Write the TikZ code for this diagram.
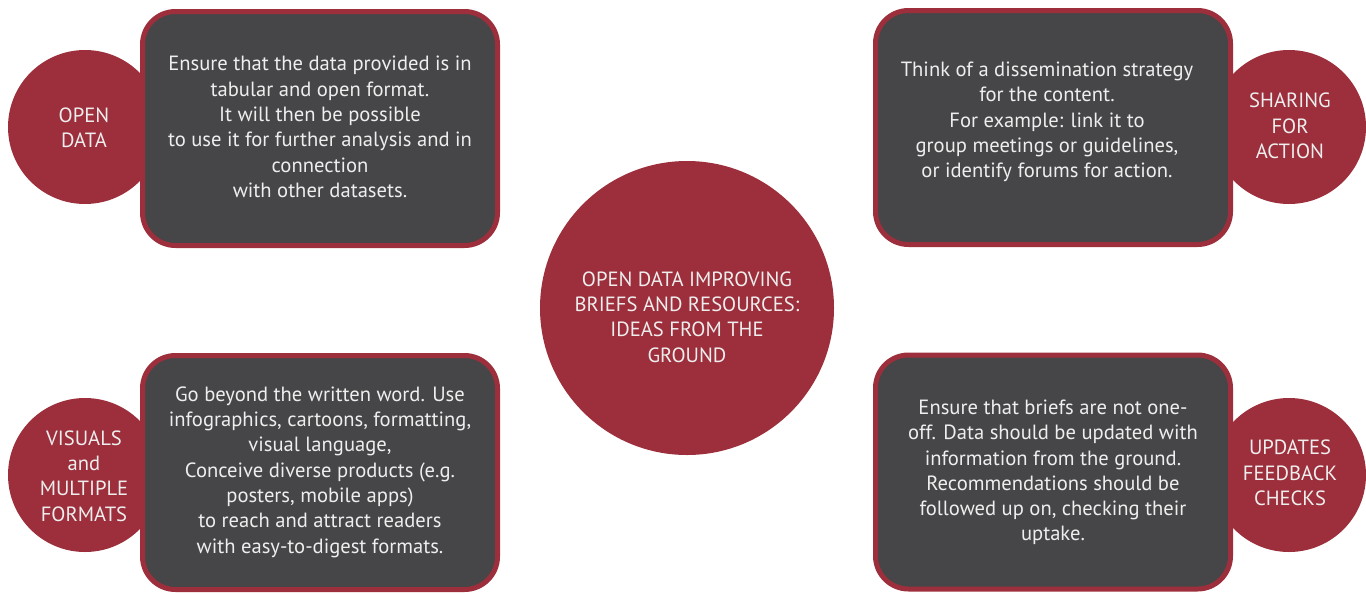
\documentclass[tikz,border=0pt]{standalone}
\usepackage{fontspec}
\setmainfont{PT Sans}
\definecolor{brickred}{HTML}{9C2F3B}
\definecolor{slate}{HTML}{464648}
\definecolor{paleText}{HTML}{EEEEEE}
\begin{document}
\begin{tikzpicture}[x=1pt,y=-1pt,
  txt/.style={text=paleText,align=center,font=\fontsize{20.6}{25.3}\selectfont},
  dot/.style={circle,fill=brickred,inner sep=0pt,txt},
  card/.style={rounded corners=33pt,draw=brickred,line width=5pt,fill=slate,
    minimum width=355pt,minimum height=234pt,inner sep=0pt,txt}]
\useasboundingbox (0,0) rectangle (1366,592);
% side circles (behind cards)
\node[dot,minimum size=154pt] (c1) at (85,127) {};
\node[dot,minimum size=154pt] (c2) at (1289,127) {};
\node[dot,minimum size=154pt] (c3) at (85,475) {};
\node[dot,minimum size=154pt] (c4) at (1289,475) {};
\node[txt] (t1) at (84,128) {OPEN\\DATA};
\node[txt] (t2) at (1290,126) {SHARING\\FOR\\ACTION};
\node[txt] (t3) at (84,476) {VISUALS\\and\\MULTIPLE\\FORMATS};
\node[txt] (t4) at (1290,473) {UPDATES\\FEEDBACK\\CHECKS};
% cards
\node[card] (b1) at (320,128.5) {};
\node[card] (b2) at (1053,127.5) {};
\node[card] (b3) at (320,472.5) {};
\node[card] (b4) at (1053,472) {};
\node[txt] (d1) at (320,127) {Ensure that the data provided is in\\tabular and open format.\\It will then be possible\\to use it for further analysis and in\\connection\\with other datasets.};
\node[txt] (d2) at (1047,122) {Think of a dissemination strategy\\for the content.\\For example: link it to\\group meetings or guidelines,\\or identify forums for action.};
\node[txt] (d3) at (320,472) {Go beyond the written word. Use\\infographics, cartoons, formatting,\\visual language,\\Conceive diverse products (e.g.\\posters, mobile apps)\\to reach and attract readers\\with easy-to-digest formats.};
\node[txt] (d4) at (1053,472.5) {Ensure that briefs are not one-\\off. Data should be updated with\\information from the ground.\\Recommendations should be\\followed up on, checking their\\uptake.};
% centre
\node[dot,minimum size=294pt] (hub) at (687,308) {};
\node[txt] (hubt) at (687,317) {OPEN DATA IMPROVING\\BRIEFS AND RESOURCES:\\IDEAS FROM THE\\GROUND};
\end{tikzpicture}
\end{document}
